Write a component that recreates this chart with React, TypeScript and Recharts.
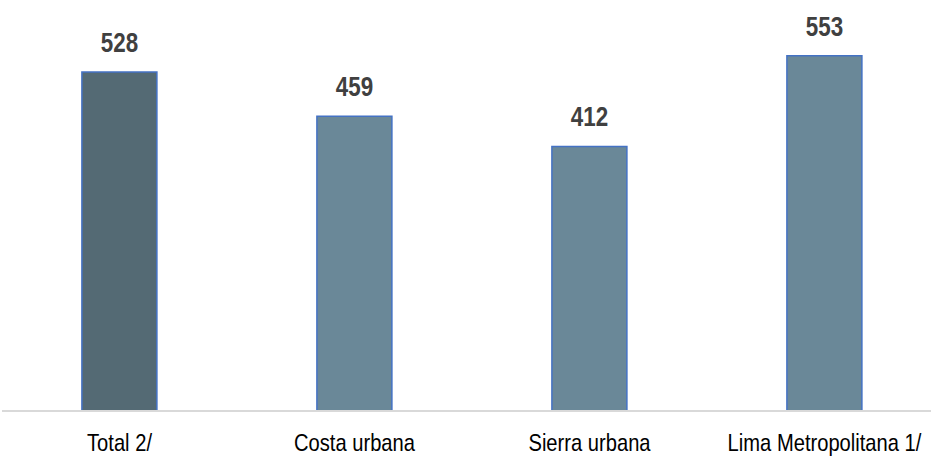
import { BarChart, Bar, XAxis, YAxis, Cell, LabelList } from 'recharts';

const categories = ['Total 2/', 'Costa urbana', 'Sierra urbana', 'Lima Metropolitana 1/'];
const values = [528, 459, 412, 553];
const fills = ['#546a74', '#6a8898', '#6a8898', '#6a8898'];

const data = categories.map((name, i) => ({ name, value: values[i] }));

// no Arial Narrow here, so squeeze Liberation Sans horizontally
const FONT = '"Liberation Sans", Arial, sans-serif';

function NarrowTick(props: any) {
  const { x, y, payload } = props;
  return (
    <g transform={`translate(${x},${y + 32}) scale(0.84,1)`}>
      <text x={0} y={0} textAnchor="middle" fill="#000" fontSize={24} fontFamily={FONT}>
        {payload.value}
      </text>
    </g>
  );
}

function ValueLabel(props: any) {
  const { x, y, width, value } = props;
  const cx = Number(x) + Number(width) / 2;
  return (
    <g transform={`translate(${cx},${Number(y) - 20}) scale(0.8,1)`}>
      <text x={0} y={0} textAnchor="middle" fill="#404040" fontSize={28} fontWeight="bold" fontFamily={FONT}>
        {value}
      </text>
    </g>
  );
}

export default function App() {
  return (
    <div style={{ position: 'absolute', left: 0, top: 0, width: 931, height: 457, overflow: 'hidden', background: '#fff' }}>
      <BarChart
        width={942}
        height={457}
        data={data}
        margin={{ top: 0, right: 0, bottom: 0, left: 2 }}
        barCategoryGap="34%"
      >
        <XAxis
          dataKey="name"
          axisLine={{ stroke: '#d9d9d9', strokeWidth: 2 }}
          tickLine={false}
          height={46}
          tick={<NarrowTick />}
          interval={0}
        />
        <YAxis hide domain={[0, 640]} />
        <Bar dataKey="value" stroke="#4472c4" strokeWidth={1.5} isAnimationActive={false}>
          {data.map((d, i) => (
            <Cell key={d.name} fill={fills[i]} />
          ))}
          <LabelList dataKey="value" content={<ValueLabel />} />
        </Bar>
      </BarChart>
    </div>
  );
}
